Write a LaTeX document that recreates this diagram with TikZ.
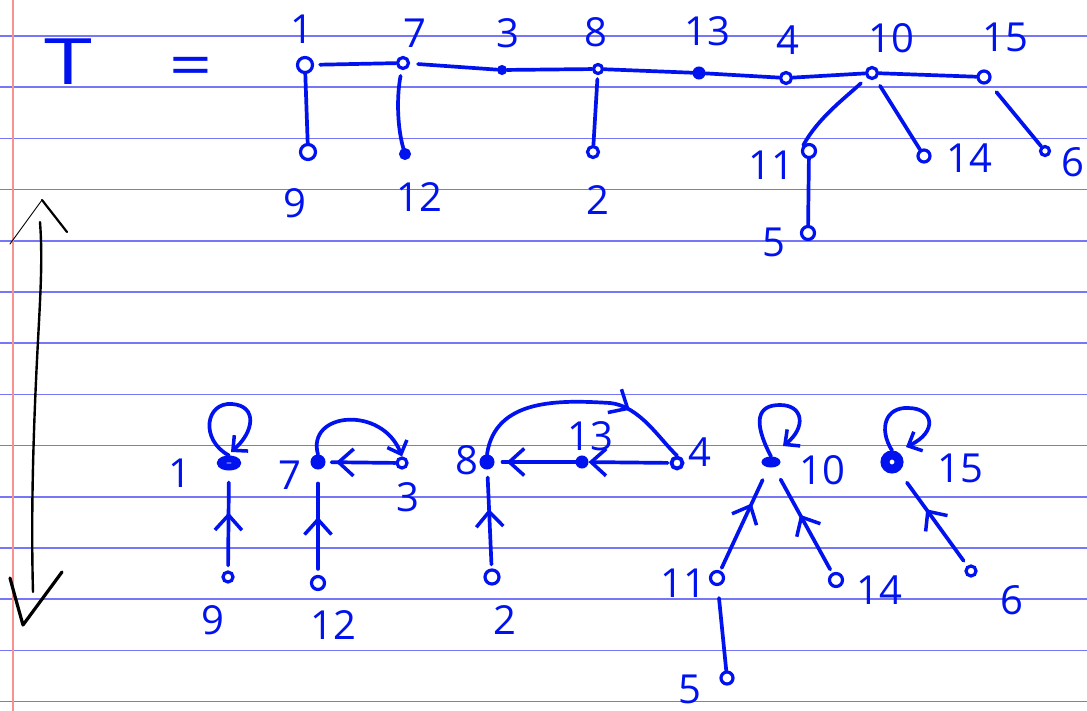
\documentclass[tikz,border=0pt]{standalone}
\usepackage{fontspec}
\setmainfont{Open Sans}
\usetikzlibrary{arrows.meta,decorations.markings,shapes.geometric}
\definecolor{ink}{RGB}{0,18,238}
\definecolor{ruling}{RGB}{118,118,246}
\definecolor{margin}{RGB}{246,146,146}
\tikzset{
  inkline/.style={draw=ink,line width=3.7pt,line cap=round,line join=round},
  pen/.style={draw=black,line cap=round,line join=round},
  ring/.style={circle,draw=ink,fill=white,line width=3.2pt,inner sep=0pt,minimum size=10pt},
  dot/.style={circle,draw=ink,fill=ink,line width=1pt,inner sep=0pt,minimum size=9pt},
  blob/.style={circle,draw=ink,fill=ink,line width=1pt,inner sep=0pt,minimum size=14pt},
  lbl/.style={text=ink,inner sep=0pt,font=\fontsize{40}{40}\selectfont},
  hand/.tip={Straight Barb[length=15pt,width=27pt,line width=3.5pt]},
  handsmall/.tip={Straight Barb[length=11pt,width=21pt,line width=3.5pt]},
  midarrow/.style={postaction={decorate},
    decoration={markings,mark=at position #1 with {\arrow{hand}}}},
}
\begin{document}
\begin{tikzpicture}[x=1pt,y=-1pt]
\useasboundingbox (0,0) rectangle (1087,711);
\fill[white] (0,0) rectangle (1087,711);
% ruled paper
\foreach \k in {0,...,13}{
  \draw[ruling,line width=1.6pt] (0,{36+51.2*\k}) -- (1087,{36+51.2*\k});
}
\draw[margin,line width=2pt] (13,0) -- (13,711);

% ---------- the tree T ----------
\node[text=ink,inner sep=0pt,font=\fontsize{64}{64}\selectfont,xscale=1.35] (T) at (68,62) {T};
\node[text=ink,inner sep=0pt,font=\fontsize{60}{60}\selectfont,xscale=1.25] (eq) at (191,72) {=};

\node[ring,minimum size=15pt] (t1) at (305,65) {};
\node[ring,minimum size=11pt] (t7) at (403,63) {};
\node[dot] (t3) at (502,70) {};
\node[ring,minimum size=9pt] (t8) at (598,69) {};
\node[blob,minimum size=12pt] (t13) at (699,73) {};
\node[ring,minimum size=11pt] (t4) at (786,78) {};
\node[ring,minimum size=11pt] (t10) at (872,73) {};
\node[ring,minimum size=12pt] (t15) at (984,77) {};
\node[ring,minimum size=15pt] (t9) at (308,152) {};
\node[dot,minimum size=11pt] (t12) at (405,154) {};
\node[ring,minimum size=11pt] (t2) at (593,152) {};
\node[ring,minimum size=13pt] (t11) at (809,151) {};
\node[ring,minimum size=12pt] (t14) at (924,156) {};
\node[ring,minimum size=9pt] (t6) at (1045,151) {};
\node[ring,minimum size=13pt] (t5) at (808,233) {};

\node[lbl] (lt1) at (302,29) {1};
\node[lbl] (lt7) at (415,33) {7};
\node[lbl] (lt3) at (508,33) {3};
\node[lbl] (lt8) at (596,32) {8};
\node[lbl] (lt13) at (707,31) {13};
\node[lbl] (lt4) at (788,40) {4};
\node[lbl] (lt10) at (891,38) {10};
\node[lbl] (lt15) at (1005,37) {15};
\node[lbl] (lt9) at (295,203) {9};
\node[lbl] (lt12) at (419,197) {12};
\node[lbl] (lt2) at (598,200) {2};
\node[lbl] (lt11) at (771,165) {11};
\node[lbl] (lt14) at (969,158) {14};
\node[lbl] (lt6) at (1073,162) {6};
\node[lbl] (lt5) at (774,242) {5};

\draw[inkline,shorten <=6pt] (t1) -- (t7);
\draw[inkline,shorten <=8pt] (t7) -- (t3);
\draw[inkline] (t3) -- (t8);
\draw[inkline] (t8) -- (t13);
\draw[inkline] (t13) -- (t4);
\draw[inkline] (t4) -- (t10);
\draw[inkline] (t10) -- (t15);
\draw[inkline] (t1) -- (t9);
\draw[inkline,shorten <=6pt] (t7) .. controls (396,100) and (398,130) .. (t12);
\draw[inkline,shorten <=4pt] (t8) -- (t2);
\draw[inkline,shorten <=8pt] (t10) .. controls (845,98) and (818,118) .. (t11.north west);
\draw[inkline,shorten <=8pt] (t10) -- (t14);
\draw[inkline,shorten <=12pt] (t15) -- (t6);
\draw[inkline] (t11) -- (t5);

% ---------- the forest of parent pointers ----------
\node[ellipse,draw=ink,fill=white,line width=7pt,inner sep=0pt,
      minimum width=17pt,minimum height=8pt] (b1) at (229,463) {};
\node[blob] (b7) at (318,462) {};
\node[ring] (b3) at (402,463) {};
\node[blob] (b8) at (487,462) {};
\node[blob,minimum size=12pt] (b13) at (582,462) {};
\node[ring,minimum size=11pt,line width=3.8pt] (b4) at (677,463) {};
\node[ellipse,draw=ink,fill=ink,line width=1pt,inner sep=0pt,
      minimum width=18pt,minimum height=10pt] (b10) at (771,462) {};
\node[circle,draw=ink,fill=white,line width=9pt,inner sep=0pt,minimum size=14pt] (b15) at (892,462) {};
\node[ring,minimum size=10pt] (b9) at (228,577) {};
\node[ring,minimum size=13pt] (b12) at (318,583) {};
\node[ring,minimum size=14pt] (b2) at (492,577) {};
\node[ring,minimum size=13pt] (b11) at (717,578) {};
\node[ring,minimum size=13pt] (b14) at (836,580) {};
\node[ring,minimum size=10pt] (b6) at (971,571) {};
\node[ring,minimum size=12pt] (b5) at (727,678) {};

\node[lbl] (lb1) at (180,473) {1};
\node[lbl] (lb7) at (290,475) {7};
\node[lbl] (lb3) at (408,497) {3};
\node[lbl] (lb8) at (467,460) {8};
\node[lbl] (lb13) at (590,436) {13};
\node[lbl] (lb4) at (700,452) {4};
\node[lbl] (lb10) at (822,470) {10};
\node[lbl] (lb15) at (960,468) {15};
\node[lbl] (lb9) at (213,620) {9};
\node[lbl] (lb12) at (333,625) {12};
\node[lbl] (lb2) at (505,620) {2};
\node[lbl] (lb11) at (683,583) {11};
\node[lbl] (lb14) at (879,590) {14};
\node[lbl] (lb6) at (1012,600) {6};
\node[lbl] (lb5) at (690,689) {5};

% tree edges pointing to the parent
\draw[inkline,midarrow=0.58,shorten <=5pt,shorten >=12pt] (b9) -- (b1);
\draw[inkline,midarrow=0.55,shorten <=6pt,shorten >=14pt] (b12) -- (b7);
\draw[inkline,midarrow=0.6,shorten <=4pt,shorten >=8pt] (b2) -- (b8);
\draw[inkline,midarrow=0.65,shorten <=3pt,shorten >=14pt] (b11) -- (b10);
\draw[inkline,midarrow=0.55,shorten <=4pt,shorten >=14pt] (b14) -- (b10);
\draw[inkline,midarrow=0.6,shorten <=6pt,shorten >=14pt] (b6) -- (b15);
\draw[inkline,shorten <=12pt] (b11) -- (b5);
\draw[inkline,midarrow=0.85,shorten >=6pt] (b3) -- (b7);
\draw[inkline,midarrow=0.85,shorten >=8pt] (b13) -- (b8);
\draw[inkline,-{hand},shorten <=2pt] (b4) -- (b13);

% curved pointers
\draw[inkline,-{handsmall}] (b7.north) .. controls (306,412) and (382,405) .. (b3.north);
\draw[inkline,midarrow=0.72] (b8.north) .. controls (495,398) and (560,400) .. (610,403)
   .. controls (640,406) and (660,440) .. (b4.north);

% self loops at the roots
\draw[inkline,-{handsmall}] (b1.north) .. controls (200,440) and (205,402) .. (232,404)
   .. controls (258,406) and (254,432) .. (231,452);
\draw[inkline,-{handsmall}] (b10.north) .. controls (752,420) and (758,405) .. (780,405)
   .. controls (804,405) and (806,428) .. (783,446);
\draw[inkline,-{handsmall}] (b15.north) .. controls (878,428) and (886,407) .. (908,408)
   .. controls (934,408) and (938,432) .. (906,447);

% double-headed arrow in pen
\coordinate (up) at (42,200);
\coordinate (down) at (23,625);
\draw[pen,line width=2.4pt] (40,222) .. controls (43,262) and (40,300) .. (37,360)
   .. controls (33,440) and (31,520) .. (33,592);
\draw[pen,line width=0.9pt] (10,244) -- (up);
\draw[pen,line width=2.2pt] (up) -- (67,232);
\draw[pen,line width=3.2pt] (10,578) -- (16,600) -- (down) -- (62,572);
\end{tikzpicture}
\end{document}
